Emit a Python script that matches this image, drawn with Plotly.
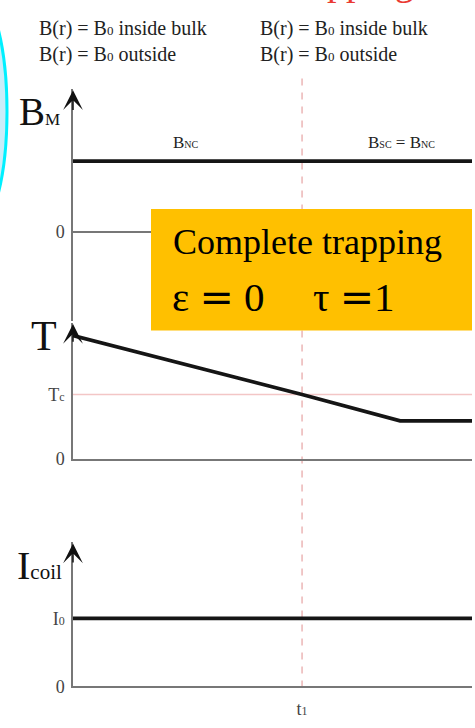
import plotly.graph_objects as go

# ---- data (time in units of t1) ----
t_end = 1.742
t1 = 1.0
t_B = [0.0, t_end]
B_M = [1.0, 1.0]                 # B_NC level, kept after t1 (B_SC = B_NC)
t_T = [0.0, 1.0, 1.428, t_end]
T_vals = [1.92, 1.0, 0.59, 0.59]  # temperature, normalised to T_c
T_c = 1.0
t_I = [0.0, t_end]
I_coil = [1.0, 1.0]              # I_0

W, H = 475, 728
SERIF = "Liberation Serif, Times New Roman, serif"
AX = "#777777"
INK = "#151515"


def px_x(px):
    return px / W


def px_y(py):
    return 1 - py / H


def center_from_baseline(baseline, size):
    # annotation box centre for a line of text sitting on `baseline`
    return px_y(baseline - 0.34 * size)


fig = go.Figure()

# B_M panel
fig.add_trace(go.Scatter(x=t_B, y=B_M, mode="lines", line=dict(color=INK, width=3.8),
                         xaxis="x", yaxis="y", hoverinfo="skip"))
# T panel: T_c reference then T(t)
fig.add_trace(go.Scatter(x=[0.0, t_end], y=[T_c, T_c], mode="lines",
                         line=dict(color="#f3c6c6", width=1.5),
                         xaxis="x2", yaxis="y2", hoverinfo="skip"))
fig.add_trace(go.Scatter(x=t_T, y=T_vals, mode="lines", line=dict(color=INK, width=3.8),
                         xaxis="x2", yaxis="y2", hoverinfo="skip"))
# I_coil panel
fig.add_trace(go.Scatter(x=t_I, y=I_coil, mode="lines", line=dict(color=INK, width=3.8),
                         xaxis="x3", yaxis="y3", hoverinfo="skip"))

xdom = [px_x(73), px_x(472)]
tickfont = dict(family=SERIF, size=18, color="#444444")
small = '<span style="font-size:12px">{}</span>'

common_y = dict(showline=True, linecolor=AX, linewidth=1.5, showgrid=False,
                ticks="", tickfont=tickfont, ticklabelstandoff=3, fixedrange=True)

fig.update_layout(
    width=W, height=H,
    margin=dict(l=0, r=0, t=0, b=0),
    paper_bgcolor="white", plot_bgcolor="white",
    showlegend=False,
    font=dict(family=SERIF, color="#222222"),
    xaxis=dict(domain=xdom, range=[0, t_end], visible=False, anchor="y"),
    xaxis2=dict(domain=xdom, range=[0, t_end], matches="x", anchor="y2",
                showline=True, linecolor=AX, linewidth=1.5, showgrid=False,
                zeroline=False, showticklabels=False, ticks=""),
    xaxis3=dict(domain=xdom, range=[0, t_end], matches="x", anchor="y3",
                showline=True, linecolor=AX, linewidth=1.5, showgrid=False,
                zeroline=False, ticks="", tickvals=[t1],
                ticktext=["t" + small.format("1")], tickfont=tickfont,
                ticklabelstandoff=5),
    yaxis=dict(domain=[px_y(325), px_y(90)], range=[-1.25, 2.02], anchor="x",
               zeroline=True, zerolinecolor=AX, zerolinewidth=1.5,
               tickvals=[0], ticktext=["0"], **common_y),
    yaxis2=dict(domain=[px_y(465), px_y(327)], range=[0, 2.123], anchor="x2",
                zeroline=False, tickvals=[0, T_c],
                ticktext=["0", "T" + small.format("c")], **common_y),
    yaxis3=dict(domain=[px_y(696), px_y(550)], range=[0, 2.116], anchor="x3",
                zeroline=False, tickvals=[0, I_coil[0]],
                ticktext=["0", "I" + small.format("0")], **common_y),
)

shapes = [
    # t1 marker
    dict(type="line", xref="x", yref="paper", x0=t1, x1=t1,
         y0=px_y(697), y1=px_y(75), line=dict(color="#e6a3a3", width=1.2, dash="7px,7px"),
         layer="below"),
    # highlighted note box
    dict(type="rect", xref="paper", yref="paper", x0=px_x(151), x1=px_x(472),
         y0=px_y(335), y1=px_y(212), fillcolor="#FFC000", line=dict(width=0), layer="above"),
    # cyan callout edge on the left
    dict(type="circle", xref="paper", yref="paper", x0=px_x(-53), x1=px_x(7),
         y0=px_y(231), y1=px_y(-5), fillcolor="#c9edf9",
         line=dict(color="#00f0ff", width=3), layer="above"),
]
fig.update_layout(shapes=shapes)

ann = []


def label(text, x_px, baseline, size, xanchor="left", color="#222222"):
    ann.append(dict(text=text, x=px_x(x_px), y=center_from_baseline(baseline, size),
                    xref="paper", yref="paper", xanchor=xanchor, yanchor="middle",
                    showarrow=False, font=dict(family=SERIF, size=size, color=color)))


sub0 = '<span style="font-size:13px">0</span>'
label("B(r) = B" + sub0 + " inside bulk", 37, 36, 20)
label("B(r) = B" + sub0 + " outside", 37, 62, 20)
label("B(r) = B" + sub0 + " inside bulk", 258, 36, 20)
label("B(r) = B" + sub0 + " outside", 258, 62, 20)
label("trapping", 285, -5, 38, color="#ea3a32")

label('B<span style="font-size:17px">M</span>', 62, 126, 39, xanchor="right", color="#111111")
label("T", 59, 355, 42, xanchor="right", color="#111111")
label('I<span style="font-size:21px">coil</span>', 64, 587, 40, xanchor="right", color="#111111")

nc = '<span style="font-size:10px">{}</span>'
label("B" + nc.format("NC"), 171, 150, 17, color="#222222")
label("B" + nc.format("SC") + " = B" + nc.format("NC"), 366, 150, 17, color="#222222")

eq = '<span style="font-family:DejaVu Serif">=</span>'
label("Complete trapping", 171, 258, 36, color="#000000")
label("ε " + eq + " 0", 170, 315, 41, color="#000000")
label("τ " + eq + "1", 311, 315, 41, color="#000000")

# axis arrowheads
for xr, yr, tip in (("x", "y", 2.0), ("x2", "y2", 2.1), ("x3", "y3", 2.1)):
    ann.append(dict(x=0, y=tip, xref=xr, yref=yr, ax=0, ay=tip - 0.3,
                    axref=xr, ayref=yr, text="", showarrow=True,
                    arrowhead=3, arrowsize=2.2, arrowwidth=1.5, arrowcolor="#111111"))

fig.update_layout(annotations=ann)

fig.write_html("out.html")
